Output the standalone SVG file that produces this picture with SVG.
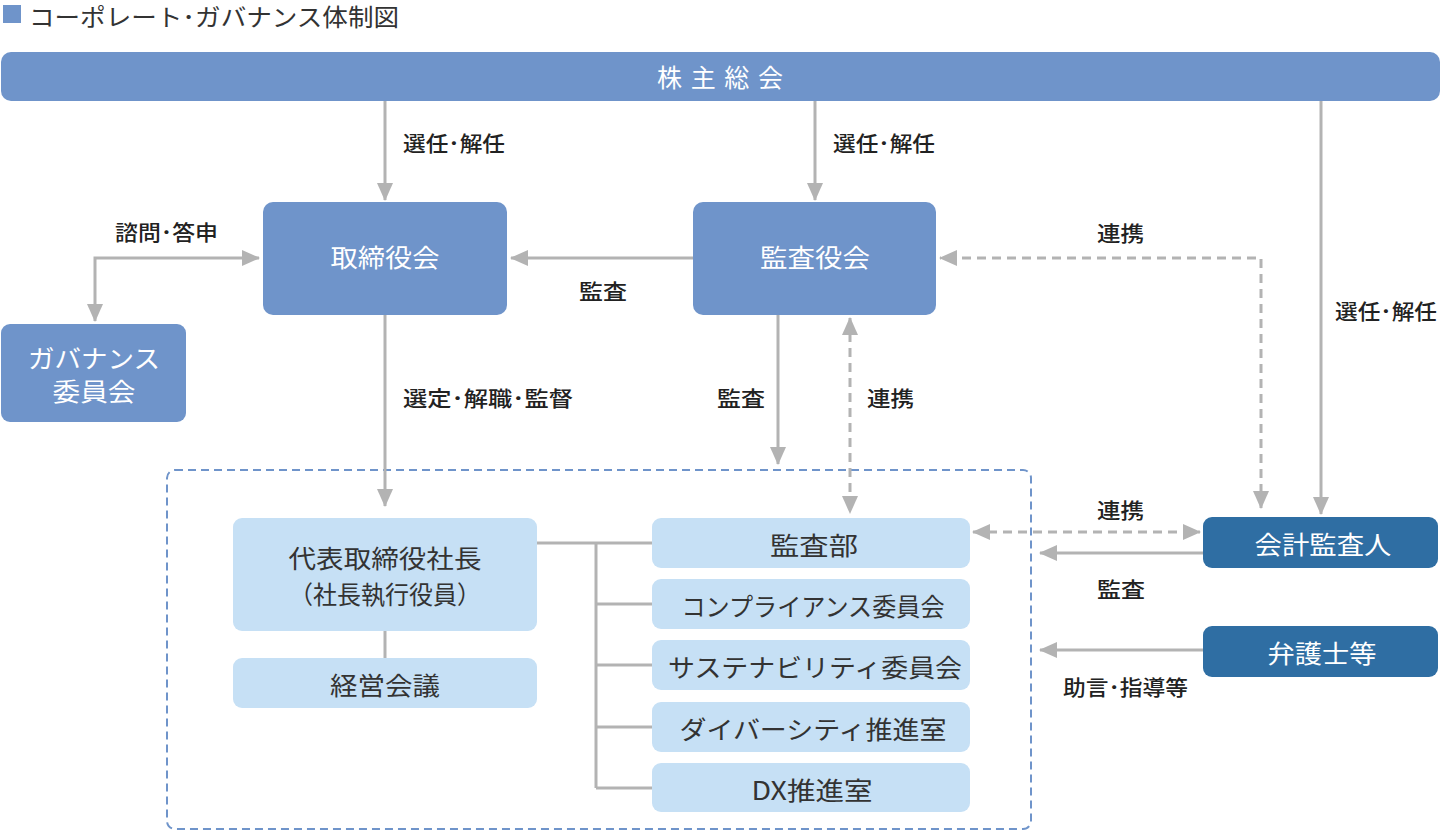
<svg xmlns="http://www.w3.org/2000/svg" width="1440" height="832" viewBox="0 0 1440 832">
<defs>
<marker id="ah" markerUnits="userSpaceOnUse" markerWidth="18" markerHeight="18" viewBox="0 0 18 18" refX="17" refY="9" orient="auto-start-reverse">
<path d="M0,1 L18,9 L0,17 Z" fill="#b3b3b3"/>
</marker>
<style>
.mid{fill:#6f94ca}
.lt{fill:#c6e0f5}
.dk{fill:#2f6ea3}
.wt{font-family:"Noto Sans CJK JP","Noto Sans",sans-serif;font-size:25px;fill:#fff;text-anchor:middle;dominant-baseline:central}
.bt{font-family:"Noto Sans CJK JP","Noto Sans",sans-serif;font-size:25px;fill:#333;text-anchor:middle;dominant-baseline:central}
.lb{font-family:"Noto Sans CJK JP","Noto Sans",sans-serif;font-size:21px;fill:#222;font-weight:500;dominant-baseline:central}
.ln{stroke:#b3b3b3;stroke-width:3;fill:none}
.ds{stroke:#b3b3b3;stroke-width:3;fill:none;stroke-dasharray:9 6}
</style>
</defs>
<rect width="1440" height="832" fill="#fff"/>
<g id="title">
<rect x="3" y="5" width="18" height="18" fill="#6f94ca"/>
<text x="29" y="15" textLength="370" lengthAdjust="spacingAndGlyphs" style="font-family:'Noto Sans CJK JP','Noto Sans',sans-serif;font-size:24px;fill:#333;dominant-baseline:central">コーポレート･ガバナンス体制図</text>
</g>
<g id="exec-area">
<rect x="167" y="470" width="864" height="359" rx="8" fill="none" stroke="#6f94ca" stroke-width="2" stroke-dasharray="8 5"/>
</g>
<g id="connectors">
<path class="ln" d="M385,101 V200" marker-end="url(#ah)"/>
<path class="ln" d="M815,101 V200" marker-end="url(#ah)"/>
<path class="ln" d="M1321,101 V514" marker-end="url(#ah)"/>
<path class="ds" d="M1261,508 V258 H940" marker-start="url(#ah)" marker-end="url(#ah)"/>
<path class="ln" d="M693,258 H511" marker-end="url(#ah)"/>
<path class="ln" d="M95,321 V258 H259" marker-start="url(#ah)" marker-end="url(#ah)"/>
<path class="ln" d="M385,315 V506" marker-end="url(#ah)"/>
<path class="ln" d="M778,315 V464" marker-end="url(#ah)"/>
<path class="ds" d="M850,318 V513" marker-start="url(#ah)" marker-end="url(#ah)"/>
<path class="ln" d="M385,631 V658"/>
<path class="ln" d="M537,543 H652 M596,543 V788 M596,604 H652 M596,665 H652 M596,727 H652 M596,788 H652"/>
<path class="ds" d="M973,532 H1200" marker-start="url(#ah)" marker-end="url(#ah)"/>
<path class="ln" d="M1203,553 H1040" marker-end="url(#ah)"/>
<path class="ln" d="M1203,650 H1040" marker-end="url(#ah)"/>
</g>
<g id="labels">
<text class="lb" x="403" y="142" textLength="102" lengthAdjust="spacingAndGlyphs">選任･解任</text>
<text class="lb" x="833" y="142" textLength="102" lengthAdjust="spacingAndGlyphs">選任･解任</text>
<text class="lb" x="1335" y="310" textLength="102" lengthAdjust="spacingAndGlyphs">選任･解任</text>
<text class="lb" x="115" y="231" textLength="103" lengthAdjust="spacingAndGlyphs">諮問･答申</text>
<text class="lb" x="579" y="290" textLength="48" lengthAdjust="spacingAndGlyphs">監査</text>
<text class="lb" x="1097" y="232" textLength="47" lengthAdjust="spacingAndGlyphs">連携</text>
<text class="lb" x="403" y="397" textLength="170" lengthAdjust="spacingAndGlyphs">選定･解職･監督</text>
<text class="lb" x="717" y="397" textLength="48" lengthAdjust="spacingAndGlyphs">監査</text>
<text class="lb" x="867" y="397" textLength="47" lengthAdjust="spacingAndGlyphs">連携</text>
<text class="lb" x="1097" y="509" textLength="47" lengthAdjust="spacingAndGlyphs">連携</text>
<text class="lb" x="1097" y="588" textLength="48" lengthAdjust="spacingAndGlyphs">監査</text>
<text class="lb" x="1063" y="686" textLength="125" lengthAdjust="spacingAndGlyphs">助言･指導等</text>
</g>
<g id="n-shareholders"><rect class="mid" x="1" y="52" width="1439" height="49" rx="10"/><text class="wt" x="720" y="76" textLength="126" lengthAdjust="spacing">株主総会</text></g>
<g id="n-board"><rect class="mid" x="263" y="202" width="244" height="113" rx="10"/><text class="wt" x="385" y="256" textLength="109" lengthAdjust="spacingAndGlyphs">取締役会</text></g>
<g id="n-audit-board"><rect class="mid" x="693" y="202" width="243" height="113" rx="10"/><text class="wt" x="815" y="256" textLength="110" lengthAdjust="spacingAndGlyphs">監査役会</text></g>
<g id="n-governance"><rect class="mid" x="1" y="324" width="185" height="98" rx="9"/><text class="wt" x="94" y="357" textLength="132" lengthAdjust="spacingAndGlyphs">ガバナンス</text><text class="wt" x="94" y="390" textLength="83" lengthAdjust="spacingAndGlyphs">委員会</text></g>
<g id="n-president"><rect class="lt" x="233" y="518" width="304" height="113" rx="9"/><text class="bt" x="385" y="557" textLength="193" lengthAdjust="spacingAndGlyphs">代表取締役社長</text><text class="bt" x="385" y="593" textLength="192" lengthAdjust="spacingAndGlyphs">（社長執行役員）</text></g>
<g id="n-mgmt"><rect class="lt" x="233" y="658" width="304" height="50" rx="9"/><text class="bt" x="385" y="684" textLength="110" lengthAdjust="spacingAndGlyphs">経営会議</text></g>
<g id="n-audit-dept"><rect class="lt" x="652" y="518" width="318" height="50" rx="9"/><text class="bt" x="814" y="544" textLength="88" lengthAdjust="spacingAndGlyphs">監査部</text></g>
<g id="n-compliance"><rect class="lt" x="652" y="579" width="318" height="50" rx="9"/><text class="bt" x="813" y="605" textLength="263" lengthAdjust="spacingAndGlyphs">コンプライアンス委員会</text></g>
<g id="n-sustain"><rect class="lt" x="652" y="640" width="318" height="50" rx="9"/><text class="bt" x="815" y="666" textLength="294" lengthAdjust="spacingAndGlyphs">サステナビリティ委員会</text></g>
<g id="n-diversity"><rect class="lt" x="652" y="702" width="318" height="50" rx="9"/><text class="bt" x="813" y="728" textLength="267" lengthAdjust="spacingAndGlyphs">ダイバーシティ推進室</text></g>
<g id="n-dx"><rect class="lt" x="652" y="763" width="318" height="49" rx="9"/><text class="bt" x="812" y="789" textLength="121" lengthAdjust="spacingAndGlyphs">DX推進室</text></g>
<g id="n-auditor"><rect class="dk" x="1203" y="517" width="235" height="51" rx="9"/><text class="wt" x="1323" y="543" textLength="137" lengthAdjust="spacingAndGlyphs">会計監査人</text></g>
<g id="n-lawyer"><rect class="dk" x="1203" y="626" width="235" height="51" rx="9"/><text class="wt" x="1322" y="652" textLength="109" lengthAdjust="spacingAndGlyphs">弁護士等</text></g>
</svg>
